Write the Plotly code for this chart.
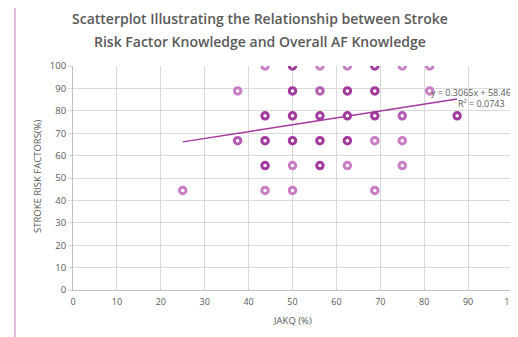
import plotly.graph_objects as go

# Data (JAKQ %, Stroke risk factors %, number of overlapping respondents)
jakq = [43.75, 50, 56.25, 62.5, 68.75, 75, 81.25,
        37.5, 50, 56.25, 62.5, 68.75, 81.25,
        43.75, 50, 56.25, 62.5, 68.75, 75, 87.5,
        37.5, 43.75, 50, 56.25, 62.5, 68.75, 75,
        43.75, 50, 56.25, 62.5, 75,
        25, 43.75, 50, 68.75]
stroke = [100, 100, 100, 100, 100, 100, 100,
          88.89, 88.89, 88.89, 88.89, 88.89, 88.89,
          77.78, 77.78, 77.78, 77.78, 77.78, 77.78, 77.78,
          66.67, 66.67, 66.67, 66.67, 66.67, 66.67, 66.67,
          55.56, 55.56, 55.56, 55.56, 55.56,
          44.44, 44.44, 44.44, 44.44]
count = [1, 3, 1, 1, 3, 1, 1,
         1, 3, 2, 3, 3, 1,
         3, 3, 3, 3, 3, 2, 3,
         2, 3, 3, 3, 3, 1, 1,
         3, 1, 3, 1, 1,
         1, 1, 1, 1]

slope = 0.3065
intercept = 58.469
r2 = 0.0743

x_ticks = [0, 10, 20, 30, 40, 50, 60, 70, 80, 90, 100]
y_ticks = [0, 10, 20, 30, 40, 50, 60, 70, 80, 90, 100]

title_lines = ["Scatterplot Illustrating the Relationship between Stroke",
               "Risk Factor Knowledge and Overall AF Knowledge"]

shade = {1: "#c97dc5", 2: "#b65bb2", 3: "#a23a9e"}
colors = [shade[c] for c in count]

OFF = 8  # page body margin offset
W, H = 518, 337
# target plot area in window pixels: x 73..512, y 66..290
ml, mt = 73 - OFF, 66 - OFF
pw, ph = 439, 224
mr = W - ml - pw
mb = H - mt - ph


def px(xp):
    return (xp - OFF - ml) / pw


def py(yp):
    return (mt + ph - (yp - OFF)) / ph


fig = go.Figure()

xmin, xmax = min(jakq), max(jakq)
fig.add_trace(go.Scatter(
    x=[xmin, xmax], y=[slope * xmin + intercept, slope * xmax + intercept],
    mode="lines", line=dict(color="#a5379f", width=1.5),
    hoverinfo="skip", showlegend=False))

fig.add_trace(go.Scatter(
    x=jakq, y=stroke, mode="markers",
    marker=dict(symbol="circle", size=6.5, color="white",
                line=dict(color=colors, width=3)),
    showlegend=False))

grey = "#595959"
fig.update_layout(
    width=W, height=H,
    margin=dict(l=ml, r=mr, t=mt, b=mb, autoexpand=False),
    paper_bgcolor="white", plot_bgcolor="white",
    font=dict(family="Open Sans", color=grey, size=9),
    xaxis=dict(range=[0, 100], tickvals=x_ticks, showgrid=True, automargin=False,
               gridcolor="#d9d9d9", gridwidth=1, zeroline=False,
               showline=True, linecolor="#bfbfbf", linewidth=1,
               ticks="outside", ticklen=3, tickcolor="rgba(0,0,0,0)",
               tickfont=dict(size=9, color=grey)),
    yaxis=dict(range=[0, 100], tickvals=y_ticks, showgrid=True, automargin=False,
               gridcolor="#d9d9d9", gridwidth=1, zeroline=False,
               showline=True, linecolor="#bfbfbf", linewidth=1,
               ticks="outside", ticklen=4, tickcolor="#d9d9d9",
               tickfont=dict(size=9.5, color=grey)),
    annotations=[
        dict(text=title_lines[0], xref="paper", yref="paper", x=px(260), y=py(18),
             xanchor="center", yanchor="middle", showarrow=False,
             font=dict(size=14, color=grey, weight=600)),
        dict(text=title_lines[1], xref="paper", yref="paper", x=px(260), y=py(41),
             xanchor="center", yanchor="middle", showarrow=False,
             font=dict(size=14, color=grey, weight=600)),
        dict(text="JAKQ (%)", xref="paper", yref="paper", x=px(292), y=py(320),
             xanchor="center", yanchor="middle", showarrow=False,
             font=dict(size=9.5, color=grey)),
        dict(text="STROKE RISK FACTORS(%)", xref="paper", yref="paper", x=px(37), y=py(176),
             xanchor="center", yanchor="middle", showarrow=False, textangle=-90,
             font=dict(size=9.5, color=grey)),
        dict(text=f"y = {slope}x + {intercept}", xref="paper", yref="paper",
             x=px(429), y=py(92), xanchor="left", yanchor="middle",
             showarrow=False, font=dict(size=9, color=grey)),
        dict(text=f"R² = {r2}", xref="paper", yref="paper",
             x=px(456), y=py(104), xanchor="left", yanchor="middle",
             showarrow=False, font=dict(size=9, color=grey)),
    ],
    shapes=[
        dict(type="line", xref="paper", yref="paper",
             x0=px(15), x1=px(15), y0=py(3), y1=py(345),
             line=dict(color="#d9a8d6", width=1.5)),
        dict(type="line", xref="paper", yref="paper",
             x0=px(15), x1=px(530), y0=py(3), y1=py(3),
             line=dict(color="#d9a8d6", width=1.5)),
    ],
)

fig.write_html("out.html")
